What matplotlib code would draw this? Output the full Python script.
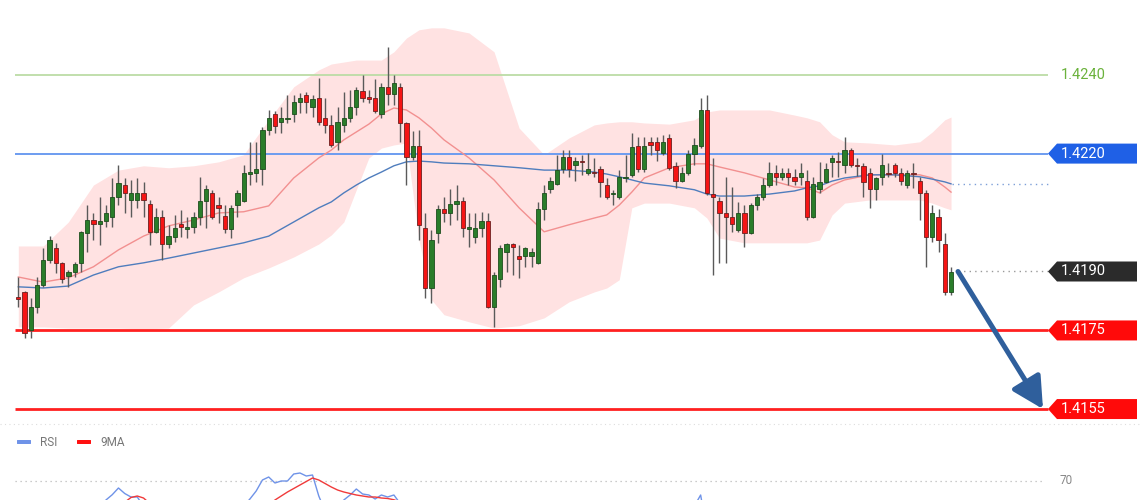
import numpy as np
import matplotlib
matplotlib.use("Agg")
import matplotlib.pyplot as plt
from matplotlib.patches import Polygon, FancyBboxPatch
from matplotlib.transforms import blended_transform_factory

plt.rcParams["font.family"] = ["Roboto", "DejaVu Sans"]

# candles (price), oldest first
opens = [1.41835, 1.41848, 1.41751, 1.41810, 1.41866, 1.41929, 1.41960, 1.41922, 1.41889, 1.41899,
         1.41922, 1.41998, 1.42031, 1.42021, 1.42029, 1.42039, 1.42090, 1.42120, 1.42082, 1.42082,
         1.42100, 1.42072, 1.42001, 1.42039, 1.41970, 1.41988, 1.42021, 1.42008, 1.42013, 1.42039,
         1.42080, 1.42100, 1.42069, 1.42041, 1.42008, 1.42069, 1.42080, 1.42148, 1.42151, 1.42161,
         1.42260, 1.42301, 1.42281, 1.42288, 1.42301, 1.42331, 1.42349, 1.42319, 1.42342, 1.42291,
         1.42273, 1.42230, 1.42273, 1.42291, 1.42319, 1.42359, 1.42344, 1.42342, 1.42301, 1.42370,
         1.42352, 1.42370, 1.42278, 1.42192, 1.42220, 1.42011, 1.41858, 1.41998, 1.42059, 1.42049,
         1.42072, 1.42080, 1.42008, 1.41988, 1.42011, 1.42029, 1.41810, 1.41881, 1.41950, 1.41970,
         1.41940, 1.41940, 1.41940, 1.41922, 1.42059, 1.42110, 1.42123, 1.42161, 1.42192, 1.42171,
         1.42181, 1.42151, 1.42153, 1.42161, 1.42120, 1.42097, 1.42090, 1.42138, 1.42146, 1.42220,
         1.42161, 1.42230, 1.42230, 1.42202, 1.42240, 1.42169, 1.42130, 1.42151, 1.42199, 1.42220,
         1.42311, 1.42097, 1.42080, 1.42049, 1.42039, 1.42006, 1.42049, 1.41998, 1.42069, 1.42090,
         1.42120, 1.42151, 1.42141, 1.42151, 1.42141, 1.42141, 1.42130, 1.42039, 1.42110, 1.42128,
         1.42179, 1.42181, 1.42171, 1.42209, 1.42171, 1.42169, 1.42151, 1.42110, 1.42141, 1.42151,
         1.42171, 1.42151, 1.42120, 1.42151, 1.42130, 1.42100, 1.41988, 1.42039, 1.41970, 1.41848]
highs = [1.41886, 1.41851, 1.41833, 1.41886, 1.41960, 1.41990, 1.41973, 1.41924, 1.41904, 1.41924,
         1.42003, 1.42069, 1.42049, 1.42090, 1.42069, 1.42138, 1.42171, 1.42138, 1.42133, 1.42138,
         1.42128, 1.42082, 1.42062, 1.42057, 1.42019, 1.42044, 1.42057, 1.42039, 1.42052, 1.42141,
         1.42120, 1.42108, 1.42090, 1.42069, 1.42069, 1.42108, 1.42171, 1.42230, 1.42230, 1.42268,
         1.42311, 1.42309, 1.42319, 1.42349, 1.42349, 1.42354, 1.42357, 1.42349, 1.42392, 1.42342,
         1.42298, 1.42319, 1.42357, 1.42362, 1.42370, 1.42400, 1.42362, 1.42390, 1.42380, 1.42471,
         1.42400, 1.42380, 1.42281, 1.42258, 1.42260, 1.42049, 1.42006, 1.42069, 1.42090, 1.42110,
         1.42120, 1.42090, 1.42049, 1.42049, 1.42052, 1.42049, 1.41899, 1.41968, 1.41973, 1.41973,
         1.41968, 1.41962, 1.41960, 1.42077, 1.42120, 1.42141, 1.42197, 1.42209, 1.42209, 1.42192,
         1.42197, 1.42202, 1.42189, 1.42169, 1.42138, 1.42108, 1.42158, 1.42197, 1.42253, 1.42242,
         1.42242, 1.42242, 1.42242, 1.42248, 1.42250, 1.42179, 1.42166, 1.42209, 1.42240, 1.42342,
         1.42349, 1.42189, 1.42090, 1.42141, 1.42115, 1.42077, 1.42069, 1.42074, 1.42097, 1.42138,
         1.42179, 1.42171, 1.42164, 1.42164, 1.42161, 1.42176, 1.42158, 1.42141, 1.42179, 1.42176,
         1.42197, 1.42204, 1.42242, 1.42214, 1.42189, 1.42176, 1.42164, 1.42141, 1.42199, 1.42176,
         1.42176, 1.42164, 1.42158, 1.42176, 1.42141, 1.42108, 1.42069, 1.42059, 1.41998, 1.41912]
lows = [1.41810, 1.41731, 1.41731, 1.41795, 1.41861, 1.41922, 1.41896, 1.41871, 1.41861, 1.41886,
        1.41899, 1.41950, 1.41980, 1.41968, 1.42013, 1.42013, 1.42069, 1.42049, 1.42039, 1.42062,
        1.42039, 1.41968, 1.41998, 1.41929, 1.41960, 1.41975, 1.41988, 1.41985, 1.41998, 1.42019,
        1.42011, 1.42034, 1.42024, 1.41998, 1.41985, 1.42039, 1.42077, 1.42120, 1.42128, 1.42120,
        1.42248, 1.42253, 1.42253, 1.42278, 1.42281, 1.42303, 1.42303, 1.42293, 1.42273, 1.42253,
        1.42217, 1.42209, 1.42255, 1.42281, 1.42298, 1.42331, 1.42329, 1.42303, 1.42291, 1.42324,
        1.42324, 1.42230, 1.42120, 1.42184, 1.41980, 1.41833, 1.41820, 1.41973, 1.42026, 1.42019,
        1.42031, 1.41988, 1.41962, 1.41973, 1.41988, 1.41807, 1.41759, 1.41861, 1.41899, 1.41891,
        1.41884, 1.41912, 1.41912, 1.41919, 1.42031, 1.42100, 1.42120, 1.42151, 1.42141, 1.42130,
        1.42146, 1.42146, 1.42141, 1.42090, 1.42085, 1.42069, 1.42085, 1.42128, 1.42141, 1.42153,
        1.42153, 1.42197, 1.42181, 1.42197, 1.42158, 1.42113, 1.42128, 1.42146, 1.42171, 1.42214,
        1.42095, 1.41891, 1.41922, 1.41922, 1.42001, 1.42001, 1.41962, 1.41996, 1.42057, 1.42082,
        1.42115, 1.42120, 1.42133, 1.42120, 1.42120, 1.42120, 1.42031, 1.42036, 1.42100, 1.42125,
        1.42141, 1.42141, 1.42151, 1.42166, 1.42143, 1.42090, 1.42062, 1.42082, 1.42120, 1.42141,
        1.42141, 1.42120, 1.42113, 1.42113, 1.42031, 1.41912, 1.41975, 1.41950, 1.41840, 1.41840]
closes = [1.41830, 1.41744, 1.41810, 1.41866, 1.41929, 1.41980, 1.41922, 1.41881, 1.41899, 1.41919,
          1.42001, 1.42031, 1.42021, 1.42029, 1.42049, 1.42090, 1.42125, 1.42100, 1.42100, 1.42100,
          1.42082, 1.42001, 1.42039, 1.41970, 1.41990, 1.42011, 1.42013, 1.42013, 1.42039, 1.42080,
          1.42110, 1.42039, 1.42062, 1.42008, 1.42062, 1.42100, 1.42151, 1.42153, 1.42161, 1.42260,
          1.42291, 1.42270, 1.42291, 1.42291, 1.42331, 1.42342, 1.42331, 1.42339, 1.42281, 1.42273,
          1.42222, 1.42281, 1.42291, 1.42319, 1.42362, 1.42342, 1.42339, 1.42309, 1.42370, 1.42352,
          1.42380, 1.42278, 1.42192, 1.42220, 1.42019, 1.41858, 1.41980, 1.42059, 1.42049, 1.42072,
          1.42080, 1.42011, 1.42013, 1.42011, 1.42029, 1.41810, 1.41891, 1.41960, 1.41970, 1.41962,
          1.41932, 1.41960, 1.41950, 1.42059, 1.42100, 1.42130, 1.42158, 1.42192, 1.42161, 1.42181,
          1.42179, 1.42161, 1.42151, 1.42128, 1.42090, 1.42100, 1.42141, 1.42141, 1.42217, 1.42161,
          1.42220, 1.42222, 1.42209, 1.42230, 1.42164, 1.42130, 1.42151, 1.42199, 1.42222, 1.42311,
          1.42100, 1.42090, 1.42049, 1.42039, 1.42021, 1.42049, 1.41998, 1.42069, 1.42090, 1.42120,
          1.42151, 1.42141, 1.42151, 1.42141, 1.42130, 1.42151, 1.42039, 1.42123, 1.42128, 1.42161,
          1.42189, 1.42179, 1.42209, 1.42171, 1.42169, 1.42128, 1.42110, 1.42138, 1.42171, 1.42148,
          1.42151, 1.42130, 1.42151, 1.42148, 1.42100, 1.41988, 1.42049, 1.41980, 1.41848, 1.41899]

# bollinger band and moving averages, read at these candle positions
band_idx = [0, 4, 8, 12, 16, 20, 24, 28, 32, 36, 40, 44, 48, 50, 52, 54, 56, 58, 60, 62,
            64, 66, 68, 72, 76, 80, 84, 88, 92, 94, 96, 98, 100, 104, 108, 110, 112, 116, 120, 124,
            126, 128, 130, 132, 136, 140, 144, 146, 148, 149]
band_upper = [1.41965, 1.41965, 1.42026, 1.42120, 1.42158, 1.42169, 1.42164, 1.42169, 1.42179, 1.42197,
              1.42286, 1.42370, 1.42413, 1.42428, 1.42433, 1.42438, 1.42438, 1.42438, 1.42459, 1.42494,
              1.42515, 1.42520, 1.42520, 1.42507, 1.42459, 1.42265, 1.42197, 1.42240, 1.42273, 1.42278,
              1.42281, 1.42281, 1.42278, 1.42275, 1.42286, 1.42306, 1.42311, 1.42311, 1.42311, 1.42298,
              1.42291, 1.42281, 1.42248, 1.42230, 1.42227, 1.42222, 1.42230, 1.42255, 1.42286, 1.42293]
band_lower = [1.41759, 1.41759, 1.41756, 1.41756, 1.41756, 1.41754, 1.41756, 1.41815, 1.41848, 1.41884,
              1.41909, 1.41937, 1.41970, 1.41993, 1.42026, 1.42108, 1.42189, 1.42214, 1.42222, 1.42227,
              1.41980, 1.41828, 1.41790, 1.41772, 1.41756, 1.41762, 1.41782, 1.41823, 1.41848, 1.41858,
              1.41879, 1.42062, 1.42074, 1.42074, 1.42062, 1.42036, 1.41985, 1.41973, 1.41973, 1.41973,
              1.41973, 1.41980, 1.42044, 1.42074, 1.42082, 1.42082, 1.42082, 1.42074, 1.42062, 1.42057]
ma_red = [1.41886, 1.41873, 1.41884, 1.41912, 1.41955, 1.41990, 1.42016, 1.42031, 1.42049, 1.42052,
          1.42067, 1.42138, 1.42189, 1.42209, 1.42235, 1.42255, 1.42275, 1.42301, 1.42316, 1.42311,
          1.42291, 1.42265, 1.42235, 1.42189, 1.42133, 1.42062, 1.42001, 1.42019, 1.42036, 1.42044,
          1.42069, 1.42102, 1.42138, 1.42164, 1.42174, 1.42174, 1.42166, 1.42151, 1.42133, 1.42115,
          1.42113, 1.42100, 1.42120, 1.42133, 1.42146, 1.42146, 1.42146, 1.42138, 1.42115, 1.42102]
ma_blue = [1.41861, 1.41858, 1.41863, 1.41891, 1.41912, 1.41922, 1.41934, 1.41947, 1.41960, 1.41973,
           1.41990, 1.42026, 1.42062, 1.42077, 1.42100, 1.42120, 1.42138, 1.42153, 1.42169, 1.42179,
           1.42181, 1.42179, 1.42176, 1.42174, 1.42169, 1.42164, 1.42158, 1.42158, 1.42153, 1.42148,
           1.42141, 1.42133, 1.42125, 1.42118, 1.42108, 1.42097, 1.42092, 1.42092, 1.42097, 1.42105,
           1.42113, 1.42118, 1.42130, 1.42138, 1.42146, 1.42146, 1.42141, 1.42135, 1.42128, 1.42123]

# levels
resistance_2 = 1.4240
resistance_1 = 1.4220
last_price = 1.4190
support_1 = 1.4175
support_2 = 1.4155
arrow_target = 1.41550

# RSI panel, visible stretches: (first candle index, values)
rsi_segments = [(13, [58, 62.4, 64.5, 67.2, 65.0, 63.6, 63.6, 60.0]),
                (36, [60.0, 62.8, 66.0, 70.4, 71.6, 69.2, 70.0, 70.0, 72.8, 73.2, 72.0, 72.4, 64.0,
                      58.0, 56.0, 59.0, 62.4, 64.4, 66.8, 64.8, 64.4, 62.8, 64.4, 63.6, 64.4, 61.0, 50.0]),
                (107, [55, 60, 64.4, 50])]
ma9_segments = [(17, [61.5, 63.4, 64.0, 63.2, 61.0]),
                (40, [60, 62.4, 64, 65.6, 67, 68.4, 69.8, 71.2, 70.4, 69, 67.6, 66.4, 65.6, 65, 64.4,
                      64, 63.6, 63.6, 63.2, 63, 62.5, 61.5])]
rsi_level = 70

W, H = 1140, 500
SP = 6.26        # px per candle
X0 = 18.3        # px of first candle
PPX = 1 / 39300  # price per px
top_price = resistance_2 + 75 * PPX
main_h = 423

fig = plt.figure(figsize=(W / 100, H / 100), dpi=100)
fig.patch.set_facecolor("white")
ax = fig.add_axes([0, (H - main_h) / H, 1, main_h / H])
ax.set_xlim(-X0 / SP, (W - X0) / SP)
ax.set_ylim(top_price - main_h * PPX, top_price)
ax.axis("off")


def px2x(px):
    return (px - X0) / SP


# bollinger band
ax.fill_between(band_idx, band_lower, band_upper, color="#ffe2e2", lw=0, zorder=1)
ax.plot(band_idx, ma_red, color="#f29090", lw=1.0, zorder=2)
ax.plot(band_idx, ma_blue, color="#4f7dbd", lw=1.0, zorder=2)

# horizontal levels
x_left, x_right = px2x(15), px2x(1048)
ax.hlines(resistance_2, x_left, x_right, color="#bcdca6", lw=1.3, zorder=1.5)
ax.hlines(resistance_1, x_left, x_right, color="#6d9cf0", lw=1.4, zorder=1.5)
ax.hlines(support_1, x_left, x_right, color="#ff2020", lw=2.0, zorder=1.5)
ax.hlines(support_2, x_left, x_right, color="#ff2020", lw=2.0, zorder=1.5)
ax.hlines(ma_blue[-1], px2x(952), x_right, color="#7d9fd8", lw=1.0, ls=(0, (1, 3)), zorder=1.5)
ax.hlines(last_price, px2x(958), x_right, color="#9a9a9a", lw=1.0, ls=(0, (1, 3)), zorder=1.5)

# candles
o = np.array(opens)
c = np.array(closes)
hi = np.array(highs)
lo = np.array(lows)
idx = np.arange(len(o))
up = c >= o
ax.vlines(idx, lo, hi, color="#5a5a5a", lw=1.0, zorder=3)
body_lo = np.minimum(o, c)
body_h = np.maximum(np.abs(c - o), 1.2 * PPX)
ax.bar(idx[up], body_h[up], bottom=body_lo[up], width=0.68, color="#2a7d2a",
       edgecolor="#1d4d1d", lw=0.6, zorder=4)
ax.bar(idx[~up], body_h[~up], bottom=body_lo[~up], width=0.68, color="#f51515",
       edgecolor="#6b2020", lw=0.6, zorder=4)

# arrow
ax.annotate("", xy=(px2x(1043), arrow_target), xytext=(px2x(958), last_price),
            arrowprops=dict(arrowstyle="-|>,head_length=1.9,head_width=1.0", lw=3.6,
                            mutation_scale=10, color="#2f5f9c", shrinkA=0, shrinkB=0),
            zorder=6)

# right labels
tr = blended_transform_factory(ax.transAxes, ax.transData)
hh = 10 * PPX


def tag(price, color):
    a, b, e = 1048 / W, 1057 / W, 1137 / W
    pts = [(a, price), (b, price + hh), (e, price + hh), (e, price - hh), (b, price - hh)]
    ax.add_patch(Polygon(pts, closed=True, transform=tr, facecolor=color, edgecolor="none",
                         zorder=7, clip_on=False))
    ax.text(1061 / W, price, "%.4f" % price, transform=tr, color="white", fontsize=10.5,
            va="center", ha="left", zorder=8)


ax.text(1061 / W, resistance_2, "%.4f" % resistance_2, transform=tr, color="#6bb23c",
        fontsize=10.5, va="center", ha="left")
tag(resistance_1, "#1f60e6")
tag(last_price, "#2b2b2b")
tag(support_1, "#ff0a0a")
tag(support_2, "#ff0a0a")

# RSI panel
ax2 = fig.add_axes([0, 0, 1, (H - main_h) / H])
ax2.set_xlim(ax.get_xlim())
ax2.set_ylim(62.4, 62.4 + (H - main_h) / 2.5)
ax2.axis("off")
ax2.axhline(62.4 + (H - main_h) / 2.5 - 0.4, color="#dddddd", lw=0.8, ls=(0, (1, 3)))
ax2.hlines(rsi_level, px2x(15), px2x(1045), color="#bbbbbb", lw=0.9, ls=(0, (1, 3)))
ax2.text(1060 / W, rsi_level, str(rsi_level),
         transform=blended_transform_factory(ax2.transAxes, ax2.transData),
         color="#888888", fontsize=8.5, va="center", ha="left")
for start, vals in rsi_segments:
    ax2.plot(np.arange(start, start + len(vals)), vals, color="#6f93e8", lw=1.0)
for start, vals in ma9_segments:
    ax2.plot(np.arange(start, start + len(vals)), vals, color="#f03a3a", lw=1.0)

for lx, col, name in [(17, "#6f93e8", "RSI"), (77, "#ff1010", "9MA")]:
    ax2.add_patch(FancyBboxPatch((lx / W, 56 / 77), 14 / W, 4 / 77,
                                 boxstyle="round,pad=0,rounding_size=0.002",
                                 transform=ax2.transAxes, facecolor=col, edgecolor="none",
                                 clip_on=False))
    ax2.text((lx + 23) / W, 58 / 77, name, transform=ax2.transAxes, color="#777777",
             fontsize=8.5, va="center", ha="left")

fig.savefig("out.png", dpi=100, facecolor="white")
